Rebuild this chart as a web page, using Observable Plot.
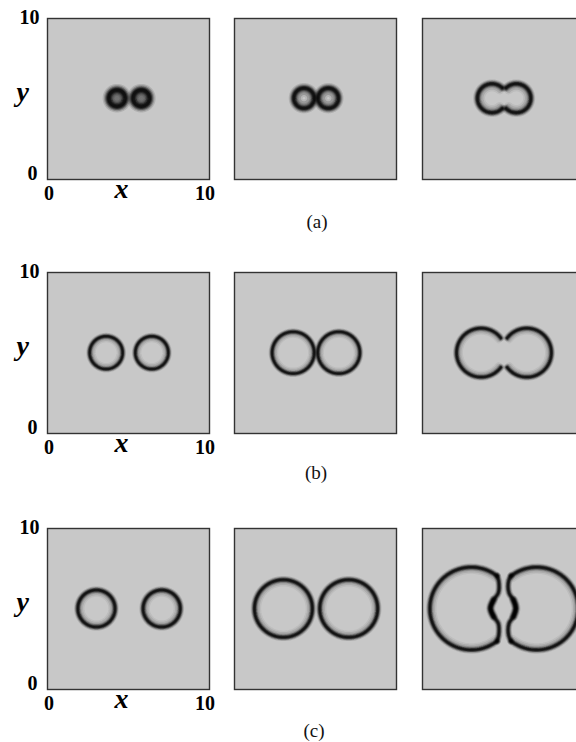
<!DOCTYPE html>
<html>
<head>
<meta charset="utf-8">
<script src="https://cdn.jsdelivr.net/npm/d3@7"></script>
<script src="https://cdn.jsdelivr.net/npm/@observablehq/plot@0.6"></script>
<style>
  body { margin: 0; background: #fff; }
  #fig { position: relative; width: 576px; height: 742px; overflow: hidden; background: #fff;
         font-family: "Liberation Serif", "Times New Roman", serif; }
  #fig .panel { position: absolute; }
  #fig .cap { position: absolute; font-size: 19px; line-height: 1; transform: translate(-50%, -50%); color: #111; }
</style>
</head>
<body>
<div id="fig"></div>
<script>
// Two point sources emitting circular fronts; rows (a)-(c) differ in source spacing,
// columns are three successive times.
const rowLabels = ["(a)", "(b)", "(c)"];
const sourceLeftX = [4.29, 3.62, 3.02];
const sourceRightX = [5.79, 6.44, 7.05];
const sourceY = [5.05, 5.02, 5.03];

// front radius at the three times
const radiusA = [0.52, 0.63, 0.9];
const radiusB = [1.02, 1.3, 1.52];
const radiusC = [1.15, 1.79, 2.57];

// half-angle (degrees) of each front removed on the side facing the other source
const gapA = [0, 0, 46];
const gapB = [0, 0, 37];
const gapC = [0, 0, 52];

// walls joining the open fronts in (c), last time
const wallY      = [7.06, 6.75, 6.0, 5.55, 5.05, 4.55, 4.1, 3.35, 3.0];
const wallLeftX  = [4.60, 4.70, 4.68, 4.38, 4.20, 4.38, 4.68, 4.70, 4.60];
const wallRightX = [5.47, 5.32, 5.34, 5.62, 5.76, 5.62, 5.34, 5.32, 5.47];

// axis ticks (first column only)
const tickValues = [0, 10];
const tickLabels = ["0", "10"];
const axisLabels = ["x", "y"];

const radii = [radiusA, radiusB, radiusC];
const gaps = [gapA, gapB, gapC];

// ---- layout and styling ----
const L = {colX: [47, 233.5, 421.7], rowY: [17.8, 272.3, 528], w: 162, h: 161,
           mL: 50, mT: 22, mR: 8, mB: 34};
const W = L.mL + L.w + L.mR, H = L.mT + L.h + L.mB;
const frontWidth = [[6.6, 5.6, 4.8], [3.8, 3.8, 4.0], [4.2, 4.2, 4.2]];
const haloOpacity = [[0.3, 0.16, 0.1], [0.09, 0.09, 0.09], [0.09, 0.09, 0.09]];
const captionPos = [[317, 221], [316, 472], [314, 730]];
const font = '"Liberation Serif", "Times New Roman", serif';
// soft band: stacked strokes, wide and faint to narrow and dark
const bandLayers = [[1.8, 0.12], [1.4, 0.2], [1.05, 0.35], [0.72, 0.5], [0.4, 0.55]];

// points along a circular front, open on the side facing the other source
function frontPath(cx, cy, r, gapDeg, facing) {
  const pts = [];
  const a0 = gapDeg, a1 = 360 - gapDeg;
  const n = Math.max(48, Math.round((a1 - a0) / 3));
  for (let i = 0; i <= n; ++i) {
    const a = (a0 + (a1 - a0) * i / n) * Math.PI / 180;
    pts.push({x: cx + facing * r * Math.cos(a), y: cy + r * Math.sin(a)});
  }
  return pts;
}

function softLine(data, w, extra = {}) {
  return bandLayers.map(([k, op]) => Plot.line(data, {
    x: "x", y: "y", stroke: "#000", strokeOpacity: op, strokeWidth: w * k,
    strokeLinecap: "round", strokeLinejoin: "round", ...extra
  }));
}

const fig = document.getElementById("fig");
for (let row = 0; row < 3; ++row) {
  for (let col = 0; col < 3; ++col) {
    const r = radii[row][col], gap = gaps[row][col], cy = sourceY[row];
    const w = frontWidth[row][col];
    const inset = (w * 0.7) / 16.2;
    const fronts = [frontPath(sourceLeftX[row], cy, r, gap, 1),
                    frontPath(sourceRightX[row], cy, r, gap, -1)];
    const halos = [frontPath(sourceLeftX[row], cy, r - inset, gap, 1),
                   frontPath(sourceRightX[row], cy, r - inset, gap, -1)];

    const marks = [Plot.frame({fill: "#c8c8c8", stroke: "none"})];
    for (const h of halos) {
      marks.push(Plot.line(h, {x: "x", y: "y", stroke: "#000", strokeOpacity: haloOpacity[row][col] * 0.6,
        strokeWidth: w * 1.8, strokeLinecap: "round"}));
      marks.push(Plot.line(h, {x: "x", y: "y", stroke: "#000", strokeOpacity: haloOpacity[row][col],
        strokeWidth: w * 1.1, strokeLinecap: "round"}));
    }
    for (const f of fronts) marks.push(...softLine(f, w));

    if (row === 2 && col === 2) {
      for (const wx of [wallLeftX, wallRightX]) {
        const wall = wallY.map((y, i) => ({x: wx[i], y}));
        marks.push(...softLine(wall, w, {curve: "catmull-rom"}));
        marks.push(...softLine(wall.slice(3, 6), w * 1.25, {curve: "catmull-rom"}));
      }
    }

    marks.push(Plot.frame({stroke: "#333", strokeWidth: 1.4}));

    if (col === 0) {
      const tickText = {fontFamily: font, fontWeight: "bold", fontSize: 20, fill: "#000"};
      marks.push(Plot.text([tickLabels[1]], {x: 0, y: tickValues[1], text: d => d, textAnchor: "end", dx: -8, dy: -1, ...tickText}));
      marks.push(Plot.text([tickLabels[0]], {x: 0, y: tickValues[0], text: d => d, textAnchor: "end", dx: -10, dy: -6, ...tickText}));
      marks.push(Plot.text([tickLabels[0]], {x: tickValues[0], y: 0, text: d => d, dx: 1.5, dy: 14, ...tickText}));
      marks.push(Plot.text([tickLabels[1]], {x: tickValues[1], y: 0, text: d => d, dx: -4.5, dy: 14, ...tickText}));
      const labelText = {fontFamily: font, fontWeight: "bold", fontStyle: "italic", fontSize: 28, fill: "#000"};
      marks.push(Plot.text([axisLabels[0]], {frameAnchor: "bottom", text: d => d, dx: -7, dy: 18, ...labelText}));
      marks.push(Plot.text([axisLabels[1]], {frameAnchor: "left", text: d => d, dx: -31, dy: -7, ...labelText}));
    }

    const svg = Plot.plot({
      width: W, height: H,
      marginLeft: L.mL, marginTop: L.mT, marginRight: L.mR, marginBottom: L.mB,
      x: {domain: [0, 10], axis: null},
      y: {domain: [0, 10], axis: null},
      style: {background: "transparent", overflow: "visible"},
      marks
    });

    svg.classList.add("panel");
    svg.style.left = (L.colX[col] - L.mL) + "px";
    svg.style.top = (L.rowY[row] - L.mT) + "px";
    fig.appendChild(svg);
  }
  const cap = document.createElement("div");
  cap.className = "cap";
  cap.textContent = rowLabels[row];
  cap.style.left = captionPos[row][0] + "px";
  cap.style.top = captionPos[row][1] + "px";
  fig.appendChild(cap);
}
</script>
</body>
</html>
